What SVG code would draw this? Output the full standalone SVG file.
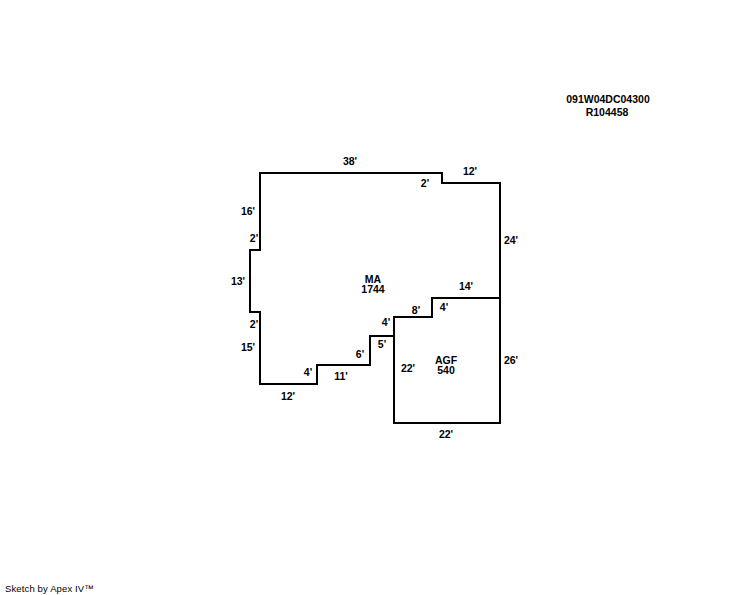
<svg xmlns="http://www.w3.org/2000/svg" width="744" height="595" viewBox="0 0 744 595">
<style>
.w{fill:none;stroke:#000;stroke-width:2;stroke-linecap:square;stroke-linejoin:miter}
text{font-family:"Liberation Sans",Arial,sans-serif;font-size:10.5px;font-weight:bold;fill:#000;text-anchor:middle}
.s{font-size:9.5px;font-weight:normal;text-anchor:start;letter-spacing:.13px}
</style>
<rect width="744" height="595" fill="#fff"/>
<g id="connectors">
<path class="w" d="M260 173H442V183H500V298H432V317H394V336H370V365H317V384H260V312H250V250H260Z"/>
<path class="w" d="M394 317V423H500V298"/>
</g>
<g id="node-MA"><text x="373" y="283"><tspan x="373">MA</tspan><tspan x="373" dy="10">1744</tspan></text></g>
<g id="node-AGF"><text x="446" y="364"><tspan x="446">AGF</tspan><tspan x="446" dy="10">540</tspan></text></g>
<g id="parcel"><text x="608" y="103">091W04DC04300</text><text x="607" y="116">R104458</text></g>
<g id="dimensions">
<text x="350" y="165">38'</text>
<text x="425" y="187">2'</text>
<text x="470" y="175">12'</text>
<text x="511" y="244">24'</text>
<text x="466" y="290">14'</text>
<text x="444" y="311">4'</text>
<text x="416" y="314">8'</text>
<text x="386" y="326">4'</text>
<text x="382" y="348">5'</text>
<text x="360" y="358">6'</text>
<text x="341" y="380">11'</text>
<text x="308" y="376">4'</text>
<text x="288" y="400">12'</text>
<text x="248" y="351">15'</text>
<text x="254" y="328">2'</text>
<text x="238" y="285">13'</text>
<text x="254" y="242">2'</text>
<text x="248" y="215">16'</text>
<text x="408" y="372">22'</text>
<text x="511" y="364">26'</text>
<text x="446" y="438">22'</text>
</g>
<text class="s" x="5" y="592">Sketch by Apex IV™</text>
</svg>
